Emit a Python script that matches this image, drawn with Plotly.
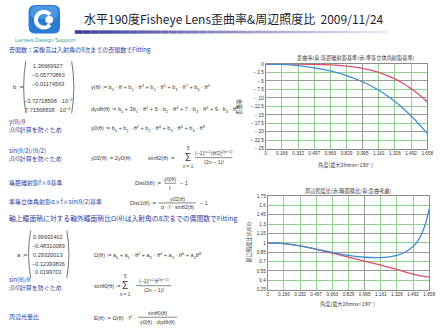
import math
import plotly.graph_objects as go

W, H = 448, 335

# ---- data -------------------------------------------------------------
# incidence angle samples (rad), 0 .. 95 deg
theta = [0, 0.166, 0.332, 0.497, 0.663, 0.829, 0.995, 1.161, 1.326,
         1.409, 1.492, 1.534, 1.575, 1.617, 1.658]
# distortion (%): blue = vs. equidistant f*theta, red = vs. quasi-equisolid
dist_equidistant = [0, -0.12, -0.48, -1.10, -2.04, -3.38, -5.23, -7.73, -11.03,
                    -13.03, -15.29, -16.51, -17.79, -19.14, -20.55]
dist_equisolid = [0, -0.00, -0.02, -0.08, -0.24, -0.59, -1.28, -2.46, -4.38,
                  -5.66, -7.25, -8.11, -9.05, -10.09, -11.19]
# relative illumination: red = pupil area ratio, blue = with distortion
pupil_ratio = [0.999, 0.986, 0.950, 0.896, 0.834, 0.770, 0.708, 0.643, 0.573,
               0.536, 0.500, 0.484, 0.469, 0.459, 0.452]
illum_ratio = [0.999, 0.986, 0.950, 0.900, 0.846, 0.798, 0.769, 0.764, 0.801,
               0.849, 0.941, 1.016, 1.125, 1.290, 1.549]

theta_ticks = [0, 0.166, 0.332, 0.497, 0.663, 0.829, 0.995, 1.161, 1.326, 1.492, 1.658]
dist_ticks = [0, -2.5, -5, -7.5, -10, -12.5, -15, -17.5, -20, -22.5, -25]
illum_ticks = [0.25, 0.4, 0.55, 0.7, 0.85, 1, 1.15, 1.3, 1.45, 1.6, 1.75]

b_coef = ["1.36669927", "−0.05770863", "−0.01174563",
          "−3.72718598 · 10<sup>−3</sup>", "7.71568838 · 10<sup>−4</sup>"]
a_coef = ["0.99932402", "−0.48310089", "0.29320013", "−0.12393836", "0.0199703"]

# ---- style ------------------------------------------------------------
BLUE = "#3b8ed6"
RED = "#dc5068"
GREEN = "#8fd08f"
GRAY = "#9a9a9a"
FRAME = "#8a8a8a"
LABEL = "#2e3c9e"
EQ = "#3a3a3a"
JP = "Noto Sans CJK JP"
SANS = "Liberation Sans"

ann, shapes = [], []


def X(x):
    return x / W


def Y(y):
    return 1 - y / H


def text(x, y, s, size=6, color=EQ, anchor="left", family=SANS, angle=0):
    ann.append(dict(x=X(x), y=Y(y), xref="paper", yref="paper", text=s,
                    showarrow=False, xanchor=anchor, yanchor="middle",
                    textangle=angle, borderpad=0,
                    font=dict(size=size, color=color, family=family)))


def hline(x0, x1, y, color=EQ, width=0.6):
    shapes.append(dict(type="line", xref="paper", yref="paper", x0=X(x0), x1=X(x1),
                       y0=Y(y), y1=Y(y), line=dict(color=color, width=width)))


def frac(cx, y, num, den, w, size=5.3):
    text(cx, y - 4.5, num, size, anchor="center")
    text(cx, y + 4.5, den, size, anchor="center")
    hline(cx - w / 2, cx + w / 2, y)


def sigma(x, y):
    text(x, y, "Σ", 10, anchor="center")
    text(x, y - 9, "5", 4.5, anchor="center")
    text(x, y + 9, "n = 1", 4.5, anchor="center")


def paren(x, y0, y1, left=True):
    d = 2.2 if left else -2.2
    path = (f"M{X(x + d)},{Y(y0)} Q{X(x - d)},{Y((y0 + y1) / 2)} "
            f"{X(x + d)},{Y(y1)}")
    shapes.append(dict(type="path", xref="paper", yref="paper", path=path,
                       line=dict(color=EQ, width=0.7)))


def poly(points, fill):
    p = "M" + " L".join(f"{X(a)},{Y(b)}" for a, b in points) + " Z"
    shapes.append(dict(type="path", xref="paper", yref="paper", path=p,
                       fillcolor=fill, line=dict(width=0)))


def rrect(x0, y0, x1, y1, r, fill):
    p = (f"M{X(x0 + r)},{Y(y0)} L{X(x1 - r)},{Y(y0)} Q{X(x1)},{Y(y0)} {X(x1)},{Y(y0 + r)} "
         f"L{X(x1)},{Y(y1 - r)} Q{X(x1)},{Y(y1)} {X(x1 - r)},{Y(y1)} "
         f"L{X(x0 + r)},{Y(y1)} Q{X(x0)},{Y(y1)} {X(x0)},{Y(y1 - r)} "
         f"L{X(x0)},{Y(y0 + r)} Q{X(x0)},{Y(y0)} {X(x0 + r)},{Y(y0)} Z")
    shapes.append(dict(type="path", xref="paper", yref="paper", path=p,
                       fillcolor=fill, line=dict(width=0)))


# ---- header: logo, title, underline -----------------------------------
rrect(28, 3, 60, 32, 7, "#2a7bd4")
rrect(30, 4, 58, 17, 6, "rgba(140,200,255,0.35)")
cx0, cy0 = 43.5, 18
ring = []
for i in range(25):
    a = math.radians(40 + i * 280 / 24)
    ring.append((cx0 + 10 * math.cos(a), cy0 - 10 * math.sin(a)))
for i in range(25):
    a = math.radians(320 - i * 280 / 24)
    ring.append((cx0 + 6 * math.cos(a), cy0 - 6 * math.sin(a)))
poly(ring, "white")
dot = [(49 + 4 * math.cos(math.radians(k * 15)), 18 - 4 * math.sin(math.radians(k * 15)))
       for k in range(24)]
poly(dot, "white")
text(45, 39, "Lenses Design Support", 5.8, "#44a38e", "center")

text(83, 17, "水平190度Fisheye Lens歪曲率&周辺照度比  2009/11/24", 12, "#1c1c30",
     family=JP)
n_seg = 40
for i in range(n_seg):
    t = i / n_seg
    r = int(58 + (235 - 58) * t)
    g = int(62 + (235 - 62) * t)
    bl = int(156 + (246 - 156) * t)
    x0 = 75 + (392 - 75) * t
    x1 = 75 + (392 - 75) * (i + 1) / n_seg
    th = 1.8 - 0.8 * t
    shapes.append(dict(type="rect", xref="paper", yref="paper", x0=X(x0), x1=X(x1),
                       y0=Y(30.5 + th), y1=Y(30.5 - th), fillcolor=f"rgb({r},{g},{bl})",
                       line=dict(width=0)))

# ---- left column: fitting functions -----------------------------------
text(7, 48, "奇関数：実像高は入射角の9次までの奇関数でFitting", 6, LABEL, family=JP)

text(11, 86, "b :=", 6)
paren(23, 60, 113, True)
paren(74, 60, 113, False)
for yy, s in zip([65, 74, 83, 100, 109], b_coef):
    text(48, yy, s, 5.6, anchor="center")

text(90, 87, "y(θ) := b<sub>0</sub> · θ + b<sub>1</sub> · θ<sup>3</sup> + b<sub>2</sub> · θ<sup>5</sup>"
     " + b<sub>3</sub> · θ<sup>7</sup> + b<sub>4</sub> · θ<sup>9</sup>", 5.6)
text(90, 109, "dydθ(θ) := b<sub>0</sub> + 3b<sub>1</sub> · θ<sup>2</sup> + 5 · b<sub>2</sub> · θ<sup>4</sup>"
     " + 7 · b<sub>3</sub> · θ<sup>6</sup> + 9 · b<sub>4</sub> · θ<sup>8</sup>", 5.6)

text(7, 121, "y(θ)/θ", 6, LABEL, family=JP)
text(7, 129, ";0/0計算を防ぐため", 6, LABEL, family=JP)
text(90, 128, "y0(θ) := b<sub>0</sub> + b<sub>1</sub> · θ<sup>2</sup> + b<sub>2</sub> · θ<sup>4</sup>"
     " + b<sub>3</sub> · θ<sup>6</sup> + b<sub>4</sub> · θ<sup>8</sup>", 5.6)

text(7, 151, "sin(θ/2)/(θ/2)", 6, LABEL, family=JP)
text(7, 159, ";0/0計算を防ぐため", 6, LABEL, family=JP)
text(90, 158, "y02(θ) := 2y0(θ)", 5.6)
text(148, 158, "sinθ2(θ) :=", 5.6)
sigma(190, 158)
frac(216, 158, "(−1)<sup>n+1</sup>(θ/2)<sup>2(n−1)</sup>", "(2n − 1)!", 38)

text(7, 183, "等距離射影f×θ基準", 6, LABEL, family=JP)
text(135, 184, "Dist0(θ) :=", 5.6)
frac(172, 184, "y0(θ)", "f", 12)
text(181, 184, "− 1", 5.6)

text(7, 203, "準等立体角射影α×f×sin(θ/2)基準", 6, LABEL, family=JP)
text(130, 204, "Dist1(θ) :=", 5.6)
frac(179, 204, "y02(θ)", "α · f · sinθ2(θ)", 38)
text(201, 204, "− 1", 5.6)

text(7, 219, "軸上瞳面積に対する軸外瞳面積比Ω(θ)は入射角の8次までの偶関数でFitting",
     6.8, LABEL, family=JP)

text(15, 257, "a :=", 6)
paren(28, 232, 280, True)
paren(69, 232, 280, False)
for yy, s in zip([239, 248, 257, 266, 274], a_coef):
    text(48, yy, s, 5.6, anchor="center")
text(93, 257, "Ω(θ) := a<sub>0</sub> + a<sub>1</sub> · θ<sup>2</sup> + a<sub>2</sub> · θ<sup>4</sup>"
     " + a<sub>3</sub> · θ<sup>6</sup> + a<sub>4</sub>θ<sup>8</sup>", 5.6)

text(7, 282, "sin(θ)/θ", 6, LABEL, family=JP)
text(7, 290, ";0/0計算を防ぐため", 6, LABEL, family=JP)
text(93, 288, "sinθ0(θ) :=", 5.6)
sigma(126, 288)
frac(155, 288, "(−1)<sup>n+1</sup>θ<sup>2(n−1)</sup>", "(2n − 1)!", 36)

text(7, 319, "周辺光量比", 6, LABEL, family=JP)
text(93, 320, "E(θ) := Ω(θ) · f<sup>2</sup> ·", 5.6)
frac(159, 320, "sinθ0(θ)", "y0(θ) · dydθ(θ)", 40)

# ---- chart titles -----------------------------------------------------
text(361, 57, "歪曲率(青:等距離射影基準/赤:準等立体角射影基準)", 5.2, EQ, "center", JP)
text(350, 165, "角度(最大2θmax=190° )", 5.2, EQ, "center", JP)
text(242, 106, "歪曲率", 5.2, EQ, "center", JP, -90)
text(352, 192, "周辺照度比(赤:瞳面積比/青:歪曲考慮)", 5.2, EQ, "center", JP)
text(352, 307, "角度(最大2θmax=190° )", 5.2, EQ, "center", JP)
text(252, 244, "周辺照度比(E/E0)", 5.2, EQ, "center", JP, -90)

# ---- figure -----------------------------------------------------------
fig = go.Figure()
line_kw = dict(mode="lines", line_shape="spline", hoverinfo="skip", showlegend=False)
fig.add_trace(go.Scatter(x=theta, y=dist_equisolid, line=dict(color=RED, width=1.3),
                         xaxis="x", yaxis="y", **line_kw))
fig.add_trace(go.Scatter(x=theta, y=dist_equidistant, line=dict(color=BLUE, width=1.3),
                         xaxis="x", yaxis="y", **line_kw))
fig.add_trace(go.Scatter(x=theta, y=pupil_ratio, line=dict(color=RED, width=1.3),
                         xaxis="x2", yaxis="y2", **line_kw))
fig.add_trace(go.Scatter(x=theta, y=illum_ratio, line=dict(color=BLUE, width=1.3),
                         xaxis="x2", yaxis="y2", **line_kw))
# carriers for the darker secondary grid
fig.add_trace(go.Scatter(x=[None], y=[None], xaxis="x3", yaxis="y3", **line_kw))
fig.add_trace(go.Scatter(x=[None], y=[None], xaxis="x4", yaxis="y4", **line_kw))

tick_font = dict(size=4.7, color="#333333", family=SANS)
theta_text = ["0" if v == 0 else f"{v:.3f}" for v in theta_ticks]


def main_axis(domain, rng, tickvals, ticktext, anchor):
    return dict(domain=domain, range=rng, tickvals=tickvals, ticktext=ticktext,
                showgrid=True, gridcolor=GREEN, gridwidth=1, zeroline=False,
                showline=True, linecolor=FRAME, linewidth=1, mirror=True,
                ticks="", tickfont=tick_font, anchor=anchor, fixedrange=True)


def overlay_axis(over, rng, tickvals, anchor):
    return dict(overlaying=over, range=rng, tickvals=tickvals, showgrid=True,
                gridcolor=GRAY, gridwidth=1, zeroline=False, showline=False,
                showticklabels=False, ticks="", anchor=anchor, fixedrange=True)


fig.update_layout(
    width=W, height=H, margin=dict(l=0, r=0, t=0, b=0),
    paper_bgcolor="white", plot_bgcolor="white", showlegend=False,
    xaxis=main_axis([X(269), X(433)], [0, 1.658], theta_ticks, theta_text, "y"),
    yaxis=main_axis([Y(149), Y(63)], [-25, 0], dist_ticks,
                    [f"{v:g}".replace("-", "− ") for v in dist_ticks], "x"),
    xaxis2=main_axis([X(271), X(435)], [0, 1.658], theta_ticks, theta_text, "y2"),
    yaxis2=main_axis([Y(292), Y(197)], [0.25, 1.75], illum_ticks,
                     [f"{v:g}" for v in illum_ticks], "x2"),
    xaxis3=overlay_axis("x", [0, 1.658], [0.995], "y3"),
    yaxis3=overlay_axis("y", [-25, 0], [-5, -10, -15, -20], "x3"),
    xaxis4=overlay_axis("x2", [0, 1.658], [0.995], "y4"),
    yaxis4=overlay_axis("y2", [0.25, 1.75], [0.55, 0.85, 1.15, 1.45], "x4"),
    annotations=ann, shapes=shapes,
)

fig.write_html("out.html", config={"displayModeBar": False})
